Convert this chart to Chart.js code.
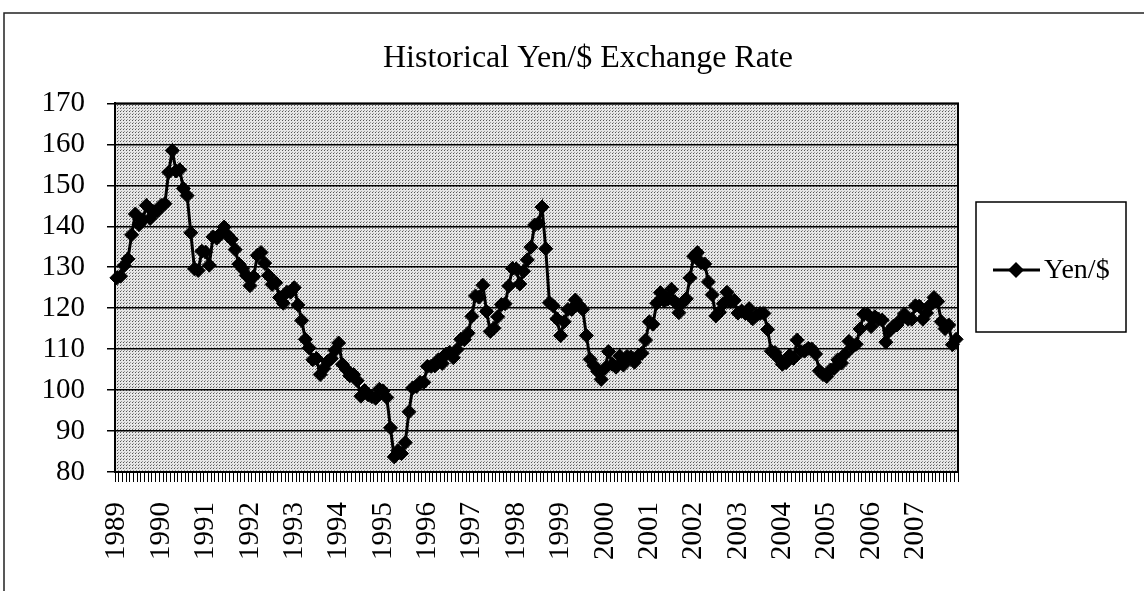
<!DOCTYPE html>
<html>
<head>
<meta charset="utf-8">
<script src="https://cdn.jsdelivr.net/npm/chart.js@4/dist/chart.umd.min.js"></script>
<style>
  html, body { margin: 0; padding: 0; background: #fff; }
  #wrap { position: relative; width: 1144px; height: 591px; }
</style>
</head>
<body>
<div id="wrap"><canvas id="grafico" width="1144" height="591"></canvas></div>
<script>
// datos: promedio mensual yen por dólar, ene 1989 - dic 2007
const years = [1989, 1990, 1991, 1992, 1993, 1994, 1995, 1996, 1997, 1998,
               1999, 2000, 2001, 2002, 2003, 2004, 2005, 2006, 2007]
const rates = [
  127.4, 127.8, 130.4, 132.0, 137.9, 143.0, 140.4, 141.5, 145.1, 141.9, 143.5, 143.7, // 1989
  145.1, 145.5, 153.2, 158.5, 153.5, 153.8, 149.2, 147.5, 138.4, 129.6, 129.2, 133.9, // 1990
  133.7, 130.5, 137.4, 137.1, 138.2, 139.8, 137.8, 136.8, 134.3, 130.8, 129.6, 128.0, // 1991
  125.5, 127.7, 132.9, 133.6, 131.0, 128.0, 125.8, 126.2, 122.6, 121.2, 123.9, 123.9, // 1992
  125.0, 120.8, 117.0, 112.4, 110.3, 107.4, 107.7, 103.8, 105.3, 107.0, 107.7, 109.7, // 1993
  111.5, 106.3, 105.1, 103.5, 103.8, 102.3, 98.5, 99.9, 98.8, 98.4, 98.0, 100.2,      // 1994
  99.8, 98.2, 90.8, 83.7, 85.2, 84.5, 87.2, 94.7, 100.5, 100.9, 101.9, 101.9,         // 1995
  105.8, 105.8, 105.9, 107.4, 106.5, 108.8, 109.2, 107.9, 109.9, 112.4, 112.3, 113.9, // 1996
  118.0, 123.0, 122.7, 125.6, 119.2, 114.3, 115.1, 117.9, 120.9, 121.1, 125.4, 129.7, // 1997
  129.6, 125.9, 129.0, 131.8, 134.9, 140.3, 140.7, 144.7, 134.5, 121.3, 120.6, 117.4, // 1998
  113.3, 116.7, 119.7, 119.7, 122.0, 120.7, 119.7, 113.3, 107.5, 106.0, 104.6, 102.6, // 1999
  105.3, 109.4, 106.3, 105.6, 108.3, 106.1, 108.2, 108.1, 106.8, 108.4, 109.0, 112.2, // 2000
  116.7, 116.1, 121.2, 123.8, 121.8, 122.2, 124.6, 121.5, 118.9, 121.3, 122.3, 127.4, // 2001
  132.7, 133.6, 131.1, 130.8, 126.4, 123.3, 118.1, 119.0, 121.1, 123.9, 121.6, 121.9, // 2002
  118.8, 119.3, 118.7, 119.9, 117.4, 118.3, 118.7, 118.7, 114.8, 109.5, 109.2, 107.7, // 2003
  106.3, 106.7, 108.5, 107.7, 112.2, 109.4, 109.5, 110.2, 110.0, 108.8, 104.7, 103.8, // 2004
  103.3, 104.9, 105.3, 107.4, 106.6, 108.8, 111.9, 110.6, 111.2, 114.9, 118.5, 118.5, // 2005
  115.5, 117.9, 117.3, 117.1, 111.7, 114.5, 115.6, 115.9, 117.2, 118.6, 117.3, 117.3, // 2006
  120.6, 120.5, 117.3, 118.8, 120.8, 122.6, 121.6, 116.7, 115.0, 115.9, 111.1, 112.4  // 2007
]
const yMin = 80
const yMax = 170
const yStep = 10

// una etiqueta por mes, solo se muestra el año en enero
const labels = []
years.forEach(a => { for (let m = 0; m < 12; m++) labels.push(m === 0 ? String(a) : '') })

const serif = 'Liberation Serif, Times New Roman, serif'

// fondo punteado del área del gráfico
const trama = document.createElement('canvas')
trama.width = 3; trama.height = 3
const tctx = trama.getContext('2d')
tctx.fillStyle = '#e6e6e6'; tctx.fillRect(0, 0, 3, 3)
tctx.fillStyle = '#555'; tctx.fillRect(0, 0, 1, 1)
tctx.fillStyle = '#999'; tctx.fillRect(1, 2, 1, 1)

const marco = {
  id: 'marco',
  beforeDraw(chart) {
    const { ctx, chartArea: a } = chart
    ctx.save()
    ctx.fillStyle = ctx.createPattern(trama, 'repeat')
    ctx.fillRect(a.left, a.top, a.right - a.left, a.bottom - a.top)
    // borde exterior
    ctx.strokeStyle = '#222'
    ctx.lineWidth = 1.5
    ctx.beginPath()
    ctx.moveTo(1144, 13); ctx.lineTo(4, 13); ctx.lineTo(4, 591)
    ctx.stroke()
    ctx.restore()
  },
  afterDraw(chart) {
    const { ctx, chartArea: a } = chart
    ctx.save()
    ctx.strokeStyle = '#000'
    ctx.lineWidth = 2
    ctx.strokeRect(a.left, a.top, a.right - a.left, a.bottom - a.top)
    // leyenda
    ctx.lineWidth = 1.5
    ctx.strokeRect(976, 202, 150, 130)
    ctx.lineWidth = 3
    ctx.beginPath(); ctx.moveTo(993, 270); ctx.lineTo(1040, 270); ctx.stroke()
    ctx.fillStyle = '#000'
    ctx.beginPath()
    ctx.moveTo(1016, 262); ctx.lineTo(1024, 270); ctx.lineTo(1016, 278); ctx.lineTo(1008, 270)
    ctx.closePath(); ctx.fill()
    ctx.font = '28px ' + serif
    ctx.textBaseline = 'middle'
    ctx.fillText(chart.data.datasets[0].label, 1044, 271)
    ctx.restore()
  }
}

const drawChart = (contenedor) => new Chart(contenedor, {
  type: 'line',
  data: {
    labels: labels,
    datasets: [{
      label: 'Yen/$',
      data: rates,
      borderColor: '#000',
      borderWidth: 3,
      backgroundColor: '#000',
      pointStyle: 'rectRot',
      pointRadius: 7,
      pointBorderWidth: 1,
      tension: 0
    }]
  },
  options: {
    responsive: false,
    animation: false,
    layout: { padding: { top: 22, right: 0, bottom: 0, left: 32 } },
    plugins: {
      legend: { display: false },
      tooltip: { enabled: false },
      title: {
        display: true,
        text: 'Historical Yen/$ Exchange Rate',
        color: '#000',
        font: { family: serif, size: 32, weight: 'normal' },
        padding: { top: 17, bottom: 26 }
      }
    },
    scales: {
      x: {
        offset: true,
        grid: { display: true, offset: true, drawOnChartArea: false, color: '#000', tickLength: 10, lineWidth: 1 },
        border: { display: true, color: '#000', width: 2 },
        ticks: {
          autoSkip: false, maxRotation: 90, minRotation: 90, padding: 20,
          color: '#000', font: { family: serif, size: 29 }
        },
        afterFit: s => { s.height = 119 }
      },
      y: {
        min: yMin, max: yMax,
        grid: { color: '#000', lineWidth: 1.5, tickLength: 8 },
        border: { display: true, color: '#000', width: 2 },
        ticks: { stepSize: yStep, padding: 22, color: '#000', font: { family: serif, size: 29 } },
        afterFit: s => { s.width = 83 }
      },
      // espacio a la derecha para la leyenda
      lado: {
        position: 'right',
        display: true,
        grid: { display: false },
        border: { display: false },
        ticks: { display: false },
        afterFit: s => { s.width = 186 }
      }
    }
  },
  plugins: [marco]
})

const grafico = drawChart(document.getElementById('grafico'))
</script>
</body>
</html>
